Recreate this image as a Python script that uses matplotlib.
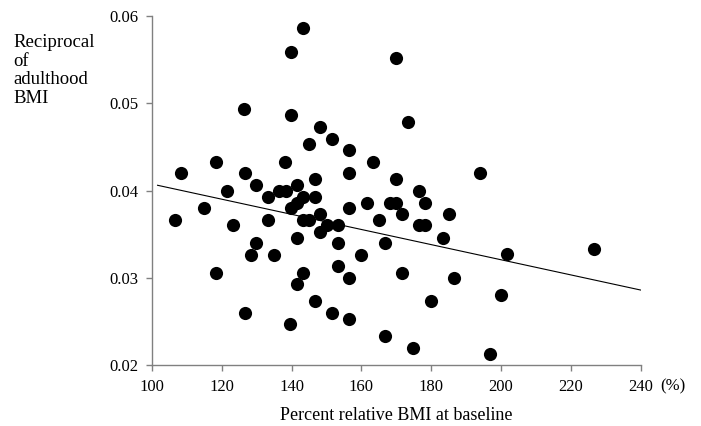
import matplotlib.pyplot as plt

# percent relative BMI at baseline (%)
bmi_pct = [
    143.2, 139.9, 169.9, 126.5, 139.9, 173.3, 148.2, 151.6, 145.0, 156.5,
    118.3, 138.2, 163.3, 108.3, 126.6, 156.5, 194.0, 146.6, 169.9, 129.9,
    141.6, 121.6, 136.5, 138.3, 176.6, 133.3, 143.3, 146.6, 141.6, 161.5,
    168.2, 169.9, 178.3, 114.9, 139.7, 156.5, 148.2, 171.7, 185.0, 106.7,
    133.3, 143.3, 145.0, 165.0, 123.3, 150.0, 153.3, 176.6, 178.3, 148.2,
    141.6, 183.3, 129.9, 153.3, 166.7, 226.6, 201.7, 128.3, 134.9, 159.9,
    153.3, 118.3, 143.3, 171.7, 156.5, 186.6, 141.6, 200.0, 146.6, 180.0,
    126.6, 151.6, 156.5, 139.4, 166.7, 174.9, 196.7,
]
# reciprocal of adulthood BMI
recip_bmi = [
    0.0586, 0.0559, 0.0552, 0.0493, 0.0486, 0.0479, 0.0473, 0.0459, 0.0453, 0.0446,
    0.0433, 0.0433, 0.0433, 0.0420, 0.0420, 0.0420, 0.0420, 0.0413, 0.0413, 0.0406,
    0.0406, 0.0399, 0.0399, 0.0399, 0.0399, 0.0393, 0.0393, 0.0393, 0.0386, 0.0386,
    0.0386, 0.0386, 0.0386, 0.0380, 0.0380, 0.0380, 0.0373, 0.0373, 0.0373, 0.0366,
    0.0366, 0.0366, 0.0366, 0.0366, 0.0360, 0.0360, 0.0360, 0.0360, 0.0360, 0.0353,
    0.0346, 0.0346, 0.0340, 0.0340, 0.0340, 0.0333, 0.0327, 0.0326, 0.0326, 0.0326,
    0.0313, 0.0306, 0.0306, 0.0306, 0.0300, 0.0300, 0.0293, 0.0280, 0.0273, 0.0273,
    0.0260, 0.0260, 0.0253, 0.0247, 0.0233, 0.0220, 0.0213,
]
# regression line end points
fit_x = [101.6, 240]
fit_y = [0.0406, 0.02859]

x_ticks = [100, 120, 140, 160, 180, 200, 220, 240]
y_ticks = [0.02, 0.03, 0.04, 0.05, 0.06]

plt.rcParams["font.family"] = ["Liberation Serif", "DejaVu Serif"]

fig = plt.figure(figsize=(7.01, 4.26), dpi=100)
ax = fig.add_axes([0.2168, 0.1432, 0.9140 - 0.2168, 0.9624 - 0.1432])

ax.scatter(bmi_pct, recip_bmi, s=90, color="black", linewidths=0, zorder=3)
ax.plot(fit_x, fit_y, color="black", lw=0.8, zorder=2)

ax.set_xlim(100, 240)
ax.set_ylim(0.02, 0.06)
ax.set_xticks(x_ticks)
ax.set_yticks(y_ticks)
ax.set_xticklabels([str(t) for t in x_ticks])
ax.set_yticklabels([f"{t:.2f}" for t in y_ticks])

for side in ["top", "right"]:
    ax.spines[side].set_visible(False)
for side in ["left", "bottom"]:
    ax.spines[side].set_color("#808080")
    ax.spines[side].set_linewidth(1.0)
ax.tick_params(axis="both", direction="out", length=4, width=1.0,
               color="#808080", labelsize=12, pad=6, labelcolor="black")

ax.annotate("(%)", xy=(240, 0.02), xytext=(14, -10), textcoords="offset points",
            ha="left", va="top", fontsize=12)

ax.set_xlabel("Percent relative BMI at baseline", fontsize=13, labelpad=9)
fig.text(13 / 701, 1 - 34 / 426, "Reciprocal\nof\nadulthood\nBMI",
         ha="left", va="top", fontsize=13.5, linespacing=1.12)

fig.savefig("out.png", dpi=100)
